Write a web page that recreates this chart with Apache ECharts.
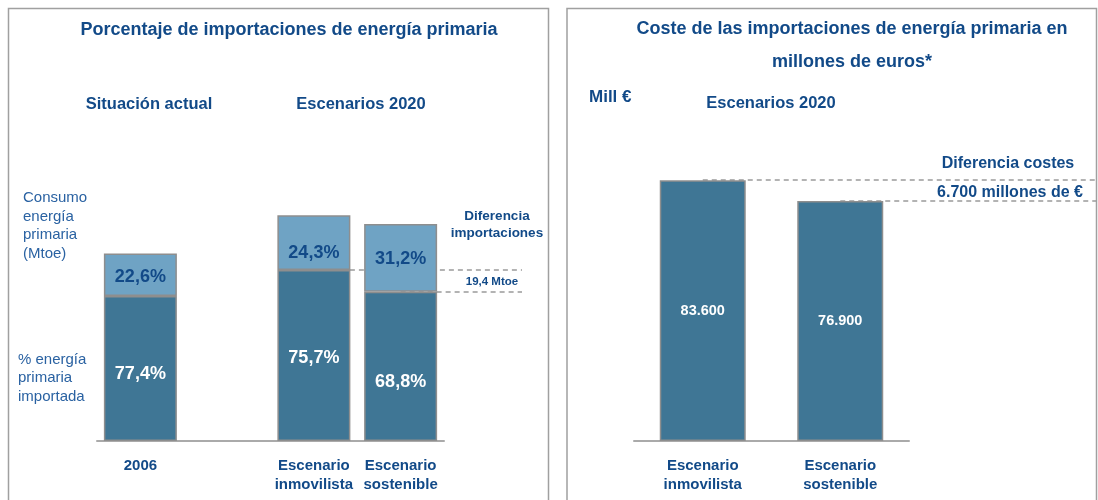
<!DOCTYPE html>
<html><head><meta charset="utf-8">
<script src="https://cdn.jsdelivr.net/npm/echarts@6/dist/echarts.min.js"></script>
<style>html,body{margin:0;padding:0;background:#fff}#c{width:1098px;height:500px}</style>
</head><body><div id="c"></div>
<script>
// ---- data ----
const leftCategories = ['2006', '', 'Escenario\ninmovilista', 'Escenario\nsostenible'];
const importedMtoe = [129.3, null, 152.3, 133.0];
const domesticMtoe = [37.8, null, 48.9, 60.3];
const totalMtoe = [167.1, null, 201.2, 193.3];
const importedPctLabels = ['77,4%', '', '75,7%', '68,8%'];
const domesticPctLabels = ['22,6%', '', '24,3%', '31,2%'];
const totalLabels = ['167,1', '', '201,2', '193,3'];
const diffImportLabel = '19,4 Mtoe';
const rightCategories = ['Escenario\ninmovilista', 'Escenario\nsostenible'];
const costMillEur = [83600, 76900];
const costLabels = ['83.600', '76.900'];
const diffCostLabel = '6.700 millones de €';

// ---- styles ----
const FONT = '"Liberation Sans", Arial, sans-serif';
const BLUE = '#124a88';
const MID = '#2a62a2';
const DARK = '#3f7695';
const LIGHT = '#6fa3c4';
const EDGE = '#8e8e8e';
const impDy = [6, 0, 2, 16];
const domDy = [2, 0, 10, 1];
const totDist = [22, 0, 6, 9];

const dashed = {type: [5, 4], color: '#9a9a9a', width: 1.5};

function txt(text, x, y, size, bold, color, align, lh) {
  return {type: 'text', x: x, y: y, silent: true, z: 10,
    style: {text: text, fill: color || BLUE, textAlign: align || 'center', textVerticalAlign: 'middle',
      font: (bold ? 'bold ' : '') + size + 'px ' + FONT, lineHeight: lh || size + 4}};
}

const chart = echarts.init(document.getElementById('c'), null, {renderer: 'canvas'});
chart.setOption({
  animation: false,
  backgroundColor: '#fff',
  grid: [
    {left: 97, width: 347, top: 160.5, height: 280.5},
    {left: 634, width: 275, top: 129, height: 312}
  ],
  xAxis: [
    {gridIndex: 0, type: 'category', data: leftCategories,
     axisLine: {lineStyle: {color: '#aaaaaa', width: 2}}, axisTick: {show: false},
     axisLabel: {margin: 15, color: BLUE, fontWeight: 'bold', fontSize: 15, fontFamily: FONT, lineHeight: 19, interval: 0}},
    {gridIndex: 1, type: 'category', data: rightCategories,
     axisLine: {lineStyle: {color: '#aaaaaa', width: 2}}, axisTick: {show: false},
     axisLabel: {margin: 15, color: BLUE, fontWeight: 'bold', fontSize: 15, fontFamily: FONT, lineHeight: 19, interval: 0}}
  ],
  yAxis: [
    {gridIndex: 0, type: 'value', min: 0, max: 250, show: false, splitLine: {show: false}},
    {gridIndex: 1, type: 'value', min: 0, max: 100000, show: false, splitLine: {show: false}}
  ],
  series: [
    {type: 'bar', name: 'Importada', xAxisIndex: 0, yAxisIndex: 0, stack: 'e', barWidth: 73,
     itemStyle: {color: DARK, borderColor: EDGE, borderWidth: 1.5},
     data: importedMtoe.map((v, i) => ({value: v, label: {offset: [0, impDy[i]]}})),
     label: {show: true, position: 'inside', color: '#fff', fontWeight: 'bold', fontSize: 18, fontFamily: FONT,
       formatter: p => importedPctLabels[p.dataIndex]},
     emphasis: {disabled: true},
     markLine: {silent: true, symbol: ['none', 'none'], z: 1, label: {show: false}, lineStyle: dashed,
       data: [
         [{xAxis: leftCategories[2], yAxis: importedMtoe[2]}, {x: 522, yAxis: importedMtoe[2]}],
         [{xAxis: leftCategories[3], yAxis: importedMtoe[3]}, {x: 522, yAxis: importedMtoe[3]}]
       ]}},
    {type: 'bar', name: 'No importada', xAxisIndex: 0, yAxisIndex: 0, stack: 'e', barWidth: 73,
     itemStyle: {color: LIGHT, borderColor: EDGE, borderWidth: 1.5},
     data: domesticMtoe.map((v, i) => ({value: v, label: {offset: [0, domDy[i]]}})),
     label: {show: true, position: 'inside', color: BLUE, fontWeight: 'bold', fontSize: 18, fontFamily: FONT,
       formatter: p => domesticPctLabels[p.dataIndex]},
     emphasis: {disabled: true}},
    {type: 'scatter', name: 'Total', xAxisIndex: 0, yAxisIndex: 0, symbolSize: 1, itemStyle: {opacity: 0},
     data: totalMtoe.map((v, i) => ({value: v, label: {distance: totDist[i]}})),
     label: {show: true, position: 'top', color: BLUE, fontWeight: 'bold', fontSize: 18, fontFamily: FONT,
       formatter: p => totalLabels[p.dataIndex]},
     emphasis: {disabled: true}, silent: true},
    {type: 'bar', name: 'Coste', xAxisIndex: 1, yAxisIndex: 1, barWidth: 86,
     itemStyle: {color: DARK, borderColor: EDGE, borderWidth: 1.5},
     data: costMillEur,
     label: {show: true, position: 'inside', color: '#fff', fontWeight: 'bold', fontSize: 14.5, fontFamily: FONT,
       formatter: p => costLabels[p.dataIndex]},
     emphasis: {disabled: true},
     markLine: {silent: true, symbol: ['none', 'none'], z: 1, label: {show: false}, lineStyle: dashed,
       data: [
         [{xAxis: rightCategories[0], yAxis: costMillEur[0]}, {x: 1097, yAxis: costMillEur[0]}],
         [{xAxis: rightCategories[1], yAxis: costMillEur[1]}, {x: 1097, yAxis: costMillEur[1]}]
       ]}}
  ],
  graphic: [
    {type: 'rect', silent: true, z: 0, shape: {x: 8.5, y: 8.5, width: 540, height: 520},
     style: {fill: 'none', stroke: '#a0a0a0', lineWidth: 1.5}},
    {type: 'rect', silent: true, z: 0, shape: {x: 567, y: 8.5, width: 529.5, height: 520},
     style: {fill: 'none', stroke: '#a0a0a0', lineWidth: 1.5}},
    txt('Porcentaje de importaciones de energía primaria', 289, 30, 18, true),
    txt('Situación actual', 149, 104, 16.5, true),
    txt('Escenarios 2020', 361, 104, 16.5, true),
    txt('Consumo\nenergía\nprimaria\n(Mtoe)', 23, 226, 15, false, MID, 'left', 18.5),
    txt('% energía\nprimaria\nimportada', 18, 378, 15, false, MID, 'left', 18.5),
    txt('Diferencia\nimportaciones', 497, 224.5, 13.5, true, BLUE, 'center', 17),
    txt(diffImportLabel, 492, 282, 11.5, true),
    txt('Coste de las importaciones de energía primaria en\nmillones de euros*', 852, 45.5, 18, true, BLUE, 'center', 33),
    txt('Mill €', 589, 97, 17, true, BLUE, 'left'),
    txt('Escenarios 2020', 771, 103, 16.5, true),
    txt('Diferencia costes', 1008, 164, 16, true),
    txt(diffCostLabel, 1010, 193, 16, true)
  ]
});
</script>
</body></html>
